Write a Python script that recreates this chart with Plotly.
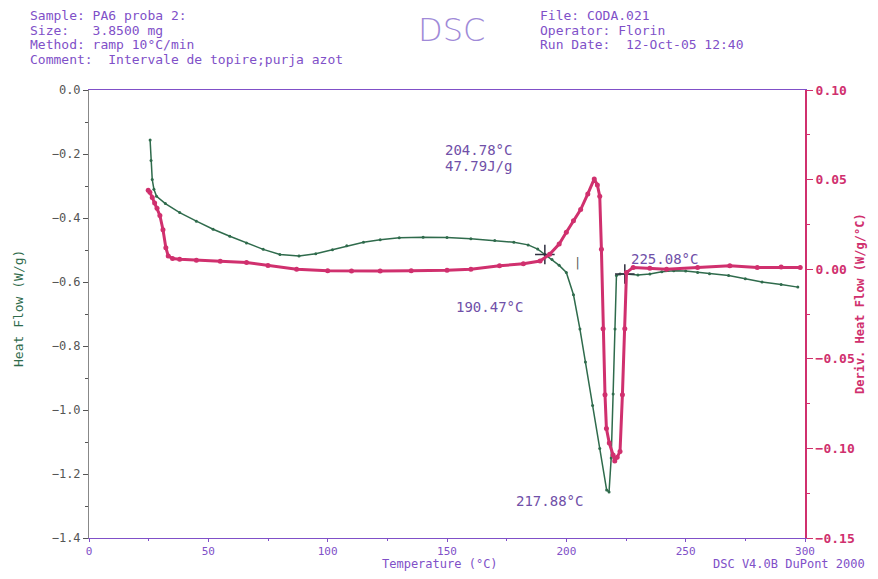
import plotly.graph_objects as go

# Heat Flow (W/g) vs Temperature
hf_temp = [25.6, 26.0, 26.5, 27.2, 28.3, 32, 38, 45, 52, 59, 66, 73, 80, 88, 95, 102, 108,
           115, 122, 130, 140, 150, 160, 170, 178, 184, 188, 191, 194, 197, 200, 203, 205.7,
           208, 211, 214, 216.9, 217.9, 218.8, 219.6, 220.4, 221, 222.5, 225, 230, 235, 240,
           245, 250, 255, 260, 268, 275, 282, 290, 297]
hf_vals = [-0.156, -0.22, -0.28, -0.31, -0.332, -0.355, -0.383, -0.41, -0.435, -0.457, -0.478,
           -0.498, -0.514, -0.519, -0.512, -0.499, -0.487, -0.476, -0.468, -0.462, -0.460,
           -0.461, -0.465, -0.470, -0.476, -0.484, -0.497, -0.514, -0.530, -0.548, -0.570,
           -0.64, -0.747, -0.85, -0.986, -1.12, -1.25, -1.256, -1.15, -0.95, -0.747, -0.58,
           -0.575, -0.575, -0.578, -0.575, -0.568, -0.565, -0.566, -0.570, -0.574, -0.58,
           -0.590, -0.600, -0.608, -0.616]

# Derivative Heat Flow (W/g/°C) vs Temperature
dhf_temp = [24.8, 25.5, 26.5, 27.5, 28.5, 29.7, 31, 32.2, 33.2, 35, 38, 45, 55, 66, 75, 87, 100,
            110, 122, 135, 150, 160, 172, 182, 189, 193, 197, 200, 203, 206, 209, 211.7, 213,
            214, 214.7, 215.4, 216.2, 216.8, 218, 219.6, 220.3, 221.3, 222.5, 223.5, 224.5,
            225.2, 228, 235, 242, 255, 268.5, 280, 290, 298]
dhf_vals = [0.044, 0.043, 0.040, 0.037, 0.034, 0.030, 0.022, 0.012, 0.0074, 0.006, 0.0056, 0.005,
            0.0045, 0.0037, 0.002, 0.0, -0.0008, -0.001, -0.001, -0.0008, -0.0006, 0.0, 0.0019,
            0.0030, 0.0046, 0.0083, 0.014, 0.0206, 0.027, 0.0333, 0.042, 0.0504, 0.047, 0.0407,
            0.0111, -0.0333, -0.07, -0.0889, -0.097, -0.1037, -0.107, -0.105, -0.1017, -0.07,
            -0.0333, -0.0019, 0.001, 0.0005, 0.0, 0.001, 0.0019, 0.001, 0.0012, 0.001]

# Analysis marks
mark_temp = [191.0, 224.5]
mark_vals = [-0.514, -0.575]

left_ticks = [0.0, -0.2, -0.4, -0.6, -0.8, -1.0, -1.2, -1.4]
right_ticks = [0.10, 0.05, 0.00, -0.05, -0.10, -0.15]
x_ticks = [0, 50, 100, 150, 200, 250, 300]

header_left = ["Sample: PA6 proba 2:", "Size:   3.8500 mg", "Method: ramp 10°C/min",
               "Comment:  Intervale de topire;purja azot"]
header_right = ["File: CODA.021", "Operator: Florin", "Run Date:  12-Oct-05 12:40"]

GREEN = "#2f6b4c"
PINK = "#d0306e"
PURPLE = "#8050c8"
MONO = "DejaVu Sans Mono"

fig = go.Figure()
fig.add_trace(go.Scatter(x=hf_temp, y=hf_vals, mode="lines+markers",
                         line=dict(color=GREEN, width=1.5),
                         marker=dict(color=GREEN, size=3), yaxis="y"))
fig.add_trace(go.Scatter(x=dhf_temp, y=dhf_vals, mode="lines+markers",
                         line=dict(color=PINK, width=3),
                         marker=dict(color=PINK, size=5), yaxis="y2"))
fig.add_trace(go.Scatter(x=mark_temp, y=mark_vals, mode="markers",
                         marker=dict(symbol="cross-thin", size=14,
                                     line=dict(color="#303040", width=1.5)), yaxis="y"))

# page body has an 8px margin, so the figure is sized/offset to fit inside the window
fig.update_layout(
    width=862, height=563, showlegend=False,
    margin=dict(l=81, r=65, t=82, b=33),
    paper_bgcolor="white", plot_bgcolor="white",
    xaxis=dict(range=[0, 300], tickvals=x_ticks, ticks="outside", ticklen=3,
               tickcolor=PURPLE, showline=True, linecolor=PURPLE, linewidth=1,
               mirror=True, showgrid=False, zeroline=False,
               tickfont=dict(family=MONO, size=11, color=PURPLE),
               minor=dict(dtick=25, ticks="outside", ticklen=2, tickcolor=PURPLE)),
    yaxis=dict(range=[-1.4, 0], tickvals=left_ticks, tickformat=".1f", ticks="outside",
               ticklen=5, tickcolor="#555", showline=True, linecolor="#888", linewidth=1,
               showgrid=False, zeroline=False,
               tickfont=dict(family=MONO, size=12, color="#555"),
               minor=dict(dtick=0.1, ticks="outside", ticklen=3, tickcolor="#555")),
    yaxis2=dict(range=[-0.15, 0.10], tickvals=right_ticks, tickformat=".2f",
                overlaying="y", side="right", ticks="outside", ticklen=6,
                tickcolor=PINK, showline=True, linecolor=PINK, linewidth=2,
                showgrid=False, zeroline=False,
                tickfont=dict(family=MONO, size=13, color=PINK, weight="bold"),
                minor=dict(dtick=0.025, ticks="outside", ticklen=3, tickcolor=PINK)),
)

def px_x(p):
    return (p - 89) / 716.0

def px_y(p):
    return (538 - p) / 448.0

ann = []
for i, t in enumerate(header_left):
    ann.append(dict(text=t, x=px_x(28), y=px_y(15 + 15 * i), xref="paper", yref="paper",
                    xanchor="left", yanchor="middle", showarrow=False,
                    font=dict(family=MONO, size=13, color=PURPLE)))
for i, t in enumerate(header_right):
    ann.append(dict(text=t, x=px_x(538), y=px_y(15 + 15 * i), xref="paper", yref="paper",
                    xanchor="left", yanchor="middle", showarrow=False,
                    font=dict(family=MONO, size=13, color=PURPLE)))
ann.append(dict(text="DSC", x=px_x(451), y=px_y(30), xref="paper", yref="paper",
                xanchor="center", yanchor="middle", showarrow=False,
                font=dict(family="DejaVu Sans", size=32, color="#a08ad8", weight=200)))
ann.append(dict(text="Temperature (°C)", x=px_x(440), y=px_y(564), xref="paper", yref="paper",
                xanchor="center", yanchor="middle", showarrow=False,
                font=dict(family=MONO, size=12, color=PURPLE)))
ann.append(dict(text="DSC V4.0B DuPont 2000", x=px_x(867), y=px_y(564), xref="paper",
                yref="paper", xanchor="right", yanchor="middle", showarrow=False,
                font=dict(family=MONO, size=12, color=PURPLE)))
ann.append(dict(text="Heat Flow (W/g)", x=px_x(18), y=px_y(309), xref="paper", yref="paper",
                xanchor="center", yanchor="middle", showarrow=False, textangle=-90,
                font=dict(family=MONO, size=13, color=GREEN)))
ann.append(dict(text="Deriv. Heat Flow (W/g/°C)", x=px_x(860), y=px_y(304), xref="paper",
                yref="paper", xanchor="center", yanchor="middle", showarrow=False,
                textangle=-90, font=dict(family=MONO, size=12, color=PINK, weight="bold")))

ANN_C = "#7050a8"
for txt, tx, ty in [("204.78°C", 163, -0.187), ("47.79J/g", 163, -0.236),
                    ("190.47°C", 168, -0.678), ("225.08°C", 241.3, -0.529),
                    ("217.88°C", 193, -1.285)]:
    ann.append(dict(text=txt, x=tx, y=ty, xref="x", yref="y", xanchor="center",
                    yanchor="middle", showarrow=False,
                    font=dict(family=MONO, size=14, color=ANN_C)))
ann.append(dict(text="|", x=204.5, y=-0.54, xref="x", yref="y", showarrow=False,
                font=dict(family=MONO, size=12, color="#555")))

fig.update_layout(annotations=ann)
fig.write_html("out.html")
